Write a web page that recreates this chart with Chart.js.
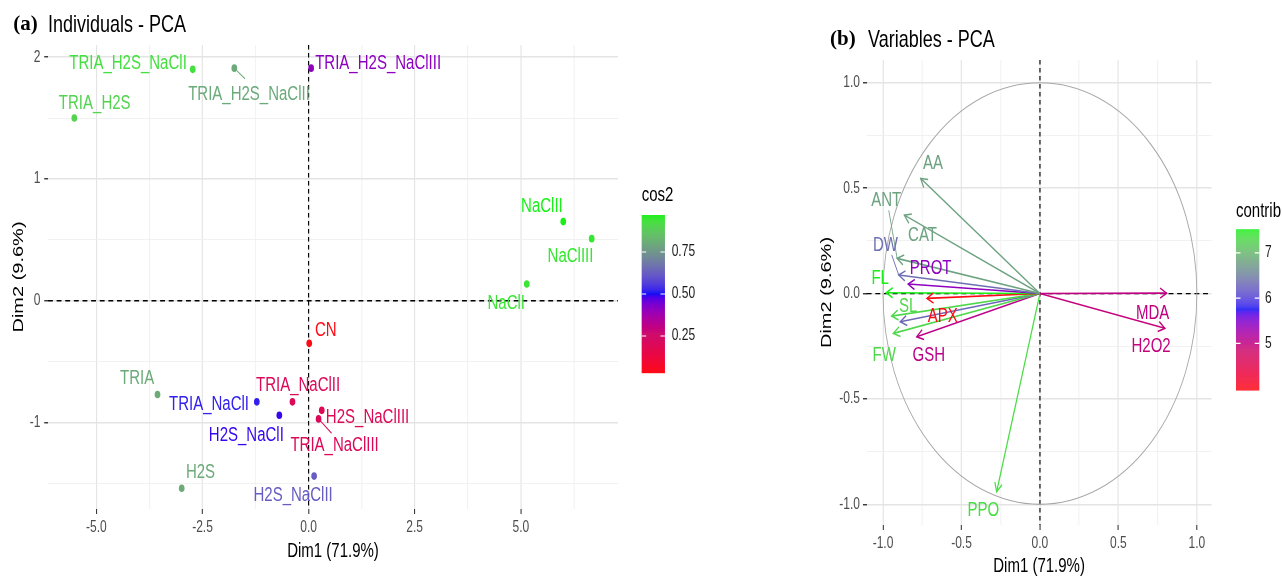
<!DOCTYPE html>
<html><head><meta charset="utf-8">
<script src="https://cdn.jsdelivr.net/npm/chart.js@4/dist/chart.umd.min.js"></script>
<style>
html,body{margin:0;padding:0;background:#fff;overflow:hidden;width:1282px;height:579px;}
#c1{position:absolute;left:0;top:0;}
#c2{position:absolute;left:780px;top:0;}
</style></head><body>
<canvas id="c1" width="1000" height="579"></canvas><canvas id="c2" width="669" height="579"></canvas>
<script>
// ---------- DATA ----------
const indNames = ["TRIA_H2S_NaClI","TRIA_H2S_NaClII","TRIA_H2S_NaClIII","TRIA_H2S","NaClII","NaClIII","NaClI","CN","TRIA","TRIA_NaClI","H2S_NaClI","TRIA_NaClII","H2S_NaClIII","TRIA_NaClIII","H2S","H2S_NaClII"];
const indDim1 = [-2.73,-1.75,0.06,-5.52,6.00,6.67,5.14,0.015,-3.56,-1.22,-0.69,-0.38,0.31,0.235,-2.99,0.13];
const indDim2 = [1.90,1.91,1.91,1.50,0.65,0.51,0.137,-0.35,-0.77,-0.83,-0.94,-0.83,-0.90,-0.97,-1.54,-1.44];
const indCos2 = [0.93,0.80,0.41,0.90,0.97,0.95,0.94,0.03,0.80,0.52,0.49,0.20,0.19,0.20,0.80,0.62];

const varNames = ["AA","ANT","CAT","DW","PROT","FL","APX","SL","","FW","GSH","MDA","H2O2","PPO"];
const varDim1 = [-0.76,-0.91,-0.864,-0.90,-0.84,-0.98,-0.72,-0.945,-0.89,-0.934,-0.785,0.807,0.796,-0.276];
const varDim2 = [0.546,0.167,0.372,0.088,0.045,0.004,-0.023,-0.107,-0.134,-0.189,-0.205,0.002,-0.165,-0.94];
const varContrib = [6.8,6.8,6.8,6.35,5.4,7.52,3.97,7.3,6.3,7.3,5.05,5.0,4.95,7.35];

const indXTicks = [-5,-3.75,-2.5,-1.25,0,1.25,2.5,3.75,5,6.25];
const indXMajor = [-5,-2.5,0,2.5,5];
const indYTicks = [-1.5,-1,-0.5,0,0.5,1,1.5,2];
const indYMajor = [-1,0,1,2];
const varTicks = [-1,-0.75,-0.5,-0.25,0,0.25,0.5,0.75,1];
const varMajor = [-1,-0.5,0,0.5,1];
const cos2LegendTicks = [0.25,0.5,0.75];
const contribLegendTicks = [5,6,7];

// ---------- LAYOUT / STYLE ----------
const SQ = 0.75; // horizontal compression of the reference figure
const FONT = "'Liberation Sans', Arial, sans-serif";
// label offsets in reference pixels relative to the mark
const indLabelPos = {
  "TRIA_H2S_NaClI":{dx:-64.7,dy:-6.3},
  "TRIA_H2S_NaClII":{dx:14.7,dy:26,seg:[10.7,10.7]},
  "TRIA_H2S_NaClIII":{dx:67,dy:-5},
  "TRIA_H2S":{dx:20.4,dy:-15},
  "NaClII":{dx:-21.3,dy:-15},
  "NaClIII":{dx:-21.2,dy:18},
  "NaClI":{dx:-20.5,dy:19.7},
  "CN":{dx:16.5,dy:-13.3},
  "TRIA":{dx:-20.4,dy:-15.7},
  "TRIA_NaClI":{dx:-47.8,dy:3},
  "H2S_NaClI":{dx:-33,dy:20.3},
  "TRIA_NaClII":{dx:5.6,dy:-16},
  "H2S_NaClIII":{dx:45.8,dy:6.7},
  "TRIA_NaClIII":{dx:16,dy:26.3,seg:[13,14.3]},
  "H2S":{dx:18.8,dy:-15.4},
  "H2S_NaClII":{dx:-21,dy:19}
};
const varLabelPos = [
  {dx:12.3,dy:-15},{dx:-10.9,dy:-58.3,seg:[-8.4,-48]},{dx:18.2,dy:20},{dx:-13.3,dy:-30,seg:[-7,-20]},
  {dx:22.5,dy:-15.7},{dx:-6,dy:-14.2},{dx:15.8,dy:18.4},{dx:16.6,dy:-9.3},{dx:0,dy:0},
  {dx:-9.1,dy:21.7},{dx:12.1,dy:18.3},{dx:-14,dy:20},{dx:-13.8,dy:17.7},{dx:-13.4,dy:18.3}
];

// ---------- COLOUR GRADIENT (Lab interpolation between stops) ----------
function hex2rgb(h){return [parseInt(h.slice(1,3),16),parseInt(h.slice(3,5),16),parseInt(h.slice(5,7),16)];}
function s2l(c){c/=255;return c<=0.04045?c/12.92:Math.pow((c+0.055)/1.055,2.4);}
function l2s(c){c=c<=0.0031308?12.92*c:1.055*Math.pow(Math.max(c,0),1/2.4)-0.055;return Math.round(Math.max(0,Math.min(1,c))*255);}
function rgb2lab(rgb){const R=s2l(rgb[0]),G=s2l(rgb[1]),B=s2l(rgb[2]);
  const X=(0.4124564*R+0.3575761*G+0.1804375*B)/0.95047,Y=0.2126729*R+0.7151522*G+0.0721750*B,Z=(0.0193339*R+0.1191920*G+0.9503041*B)/1.08883;
  const f=t=>t>0.008856?Math.cbrt(t):7.787*t+16/116;const fx=f(X),fy=f(Y),fz=f(Z);
  return [116*fy-16,500*(fx-fy),200*(fy-fz)];}
function lab2rgb(l){const fy=(l[0]+16)/116,fx=fy+l[1]/500,fz=fy-l[2]/200;
  const fi=t=>{const t3=t*t*t;return t3>0.008856?t3:(t-16/116)/7.787;};
  const X=fi(fx)*0.95047,Y=fi(fy),Z=fi(fz)*1.08883;
  return [l2s(3.2404542*X-1.5371385*Y-0.4985314*Z),l2s(-0.9692660*X+1.8760108*Y+0.0415560*Z),l2s(0.0556434*X-0.2040259*Y+1.0572252*Z)];}
const gradStops = [0,0.25,0.5,0.75,1];
const gradLab = ["#FF0a14","#CC0C6E","#0A0AF5","#6F9090","#18F018"].map(h=>rgb2lab(hex2rgb(h)));
function colorFor(v,lo,hi){let t=(v-lo)/(hi-lo);t=Math.max(0,Math.min(1,t));
  let k=0;while(k<gradStops.length-2&&t>gradStops[k+1])k++;
  const s=(t-gradStops[k])/(gradStops[k+1]-gradStops[k]);const a=gradLab[k],b=gradLab[k+1];
  const c=lab2rgb([a[0]+(b[0]-a[0])*s,a[1]+(b[1]-a[1])*s,a[2]+(b[2]-a[2])*s]);
  return 'rgb('+c.join(',')+')';}

const cosLo=Math.min(...indCos2), cosHi=Math.max(...indCos2);
const conLo=Math.min(...varContrib), conHi=Math.max(...varContrib);
const indColors=indCos2.map(v=>colorFor(v,cosLo,cosHi));
const varColors=varContrib.map(v=>colorFor(v,conLo,conHi));

// ---------- HELPERS ----------
function gridOpts(major){
  return {
    color:c=>major.includes(c.tick.value)?'#e4e4e4':'#efefef',
    lineWidth:c=>major.includes(c.tick.value)?1.5:1,
    tickColor:c=>major.includes(c.tick.value)?'#333333':'rgba(0,0,0,0)',
    tickLength:5,tickWidth:1.4,drawTicks:true
  };
}
function drawTitle(ctx,tagX,tag,textX,text,y){
  ctx.save();ctx.textBaseline='middle';ctx.textAlign='left';ctx.fillStyle='#000';
  ctx.translate(tagX,y);ctx.scale(1/SQ,1);ctx.font="bold 21px 'Liberation Serif','Times New Roman',serif";ctx.fillText(tag,0,0);ctx.restore();
  ctx.save();ctx.textBaseline='middle';ctx.textAlign='left';ctx.fillStyle='#000';ctx.font='24px '+FONT;ctx.fillText(text,textX,y);ctx.restore();
}
function drawColorbar(ctx,o){
  const h=o.bottom-o.top;ctx.save();
  for(let i=0;i<h;i++){const v=o.hi-(i+0.5)/h*(o.hi-o.lo);ctx.fillStyle=colorFor(v,o.lo,o.hi);ctx.fillRect(o.x,o.top+i,o.w,1.2);}
  ctx.strokeStyle='#fff';ctx.lineWidth=1.2;ctx.fillStyle='#1a1a1a';ctx.font='16px '+FONT;ctx.textAlign='left';ctx.textBaseline='middle';
  o.ticks.forEach(t=>{const y=o.bottom-(t-o.lo)/(o.hi-o.lo)*h;
    ctx.beginPath();ctx.moveTo(o.x,y);ctx.lineTo(o.x+6,y);ctx.moveTo(o.x+o.w-6,y);ctx.lineTo(o.x+o.w,y);ctx.stroke();
    ctx.fillText(o.fmt(t),o.labelX,y);});
  ctx.fillStyle='#000';ctx.font='20px '+FONT;ctx.fillText(o.title,o.x,o.titleY);
  ctx.restore();
}
function zeroLines(chart){
  const {ctx,chartArea:a,scales:{x,y}}=chart;const x0=x.getPixelForValue(0),y0=y.getPixelForValue(0);
  ctx.save();ctx.strokeStyle='#000';ctx.lineWidth=1.3;
  ctx.setLineDash([6.5,5]);ctx.beginPath();ctx.moveTo(a.left,y0);ctx.lineTo(a.right,y0);ctx.stroke();
  ctx.setLineDash([4.5,3.5]);ctx.lineWidth=1.5;ctx.beginPath();ctx.moveTo(x0,a.top);ctx.lineTo(x0,a.bottom);ctx.stroke();
  ctx.restore();
}
const squash={id:'squash',
  beforeDraw(chart){chart.ctx.save();chart.ctx.setTransform(SQ,0,0,1,0,0);}};
const common={responsive:false,animation:false,events:[],devicePixelRatio:1,
  plugins:{legend:{display:false},tooltip:{enabled:false}}};
function finish(chart,canvas,w){canvas.width=w;canvas.style.width=w+'px';canvas.style.height='579px';chart.draw();}

// ---------- CHART (a) ----------
const cv1=document.getElementById('c1');
const ch1=new Chart(cv1,{
  type:'scatter',
  data:{datasets:[{data:indDim1.map((v,i)=>({x:v,y:indDim2[i]})),pointRadius:3.8,pointBackgroundColor:indColors,pointBorderWidth:0}]},
  options:Object.assign({},common,{
    layout:{padding:{left:0,right:176,top:45,bottom:0}},
    scales:{
      x:{type:'linear',min:-6.14,max:7.29,
        afterBuildTicks:s=>{s.ticks=indXTicks.map(v=>({value:v}));},
        afterFit:s=>{s.height=70;},
        grid:gridOpts(indXMajor),border:{display:false},
        ticks:{callback:v=>indXMajor.includes(v)?v.toFixed(1):'',font:{family:FONT,size:16},color:'#4d4d4d',padding:4,maxRotation:0,autoSkip:false},
        title:{display:true,text:'Dim1 (71.9%)',font:{family:FONT,size:20},color:'#000',padding:{top:0,bottom:15.3}}},
      y:{type:'linear',min:-1.71,max:2.10,
        afterBuildTicks:s=>{s.ticks=indYTicks.map(v=>({value:v}));},
        afterFit:s=>{s.width=64;},
        grid:gridOpts(indYMajor),border:{display:false},
        ticks:{callback:v=>indYMajor.includes(v)?String(v):'',font:{family:FONT,size:16},color:'#4d4d4d',padding:5,autoSkip:false},
        title:{display:true,text:'Dim2 (9.6%)',font:{family:FONT,size:20},color:'#000',padding:{top:13.3,bottom:0}}}
    }
  }),
  plugins:[squash,{id:'indDeco',
    beforeDatasetsDraw(chart){zeroLines(chart);},
    afterDatasetsDraw(chart){
      const {ctx,scales:{x,y}}=chart;ctx.save();ctx.font='20px '+FONT;ctx.textAlign='center';ctx.textBaseline='middle';
      indNames.forEach((n,i)=>{const px=x.getPixelForValue(indDim1[i]),py=y.getPixelForValue(indDim2[i]);const o=indLabelPos[n];
        if(o.seg){ctx.strokeStyle=indColors[i];ctx.lineWidth=1.2;ctx.beginPath();ctx.moveTo(px,py);ctx.lineTo(px+o.seg[0]/SQ,py+o.seg[1]);ctx.stroke();}
        ctx.fillStyle=indColors[i];ctx.fillText(n,px+o.dx/SQ,py+o.dy);});
      ctx.restore();
    },
    afterDraw(chart){
      const ctx=chart.ctx;
      drawTitle(ctx,17.8,'(a)',64,'Individuals - PCA',25);
      drawColorbar(ctx,{x:855.6,w:31,top:215,bottom:373,lo:cosLo,hi:cosHi,ticks:cos2LegendTicks,fmt:t=>t.toFixed(2),title:'cos2',titleY:195,labelX:895.6});
      ctx.restore();
    }}]
});
finish(ch1,cv1,750);

// ---------- CHART (b) ----------
const cv2=document.getElementById('c2');
const ch2=new Chart(cv2,{
  type:'scatter',
  data:{datasets:varNames.map((n,i)=>({label:n,data:[{x:0,y:0},{x:varDim1[i],y:varDim2[i]}],showLine:true,borderColor:varColors[i],borderWidth:1.6,pointRadius:0,fill:false}))},
  options:Object.assign({},common,{
    layout:{padding:{left:0,right:93.7,top:60,bottom:0}},
    scales:{
      x:{type:'linear',min:-1.104,max:1.093,
        afterBuildTicks:s=>{s.ticks=varTicks.map(v=>({value:v}));},
        afterFit:s=>{s.height=54;},
        grid:gridOpts(varMajor),border:{display:false},
        ticks:{callback:v=>varMajor.includes(v)?v.toFixed(1):'',font:{family:FONT,size:16},color:'#4d4d4d',padding:4,maxRotation:0,autoSkip:false},
        title:{display:true,text:'Dim1 (71.9%)',font:{family:FONT,size:20},color:'#000',padding:{top:0,bottom:0.5}}},
      y:{type:'linear',min:-1.098,max:1.108,
        afterBuildTicks:s=>{s.ticks=varTicks.map(v=>({value:v}));},
        afterFit:s=>{s.width=115.6;},
        grid:gridOpts(varMajor),border:{display:false},
        ticks:{callback:v=>varMajor.includes(v)?v.toFixed(1):'',font:{family:FONT,size:16},color:'#4d4d4d',padding:4,autoSkip:false},
        title:{display:true,text:'Dim2 (9.6%)',font:{family:FONT,size:20},color:'#000',padding:{top:50.3,bottom:0}}}
    }
  }),
  plugins:[squash,{id:'varDeco',
    beforeDatasetsDraw(chart){
      zeroLines(chart);
      const {ctx,scales:{x,y}}=chart;const cx=x.getPixelForValue(0),cy=y.getPixelForValue(0);
      ctx.save();ctx.strokeStyle='#a8a8a8';ctx.lineWidth=1.2;ctx.beginPath();
      ctx.ellipse(cx,cy,Math.abs(x.getPixelForValue(1)-cx),Math.abs(y.getPixelForValue(1)-cy),0,0,Math.PI*2);ctx.stroke();ctx.restore();
    },
    afterDatasetsDraw(chart){
      const {ctx,scales:{x,y}}=chart;const ox=x.getPixelForValue(0),oy=y.getPixelForValue(0);
      ctx.save();ctx.lineWidth=1.6;ctx.font='20px '+FONT;ctx.textAlign='center';ctx.textBaseline='middle';
      varNames.forEach((n,i)=>{const px=x.getPixelForValue(varDim1[i]),py=y.getPixelForValue(varDim2[i]);
        const ang=Math.atan2(py-oy,px-ox),L=10,A=Math.PI/6;ctx.strokeStyle=varColors[i];
        ctx.beginPath();ctx.moveTo(px-L*Math.cos(ang-A),py-L*Math.sin(ang-A));ctx.lineTo(px,py);ctx.lineTo(px-L*Math.cos(ang+A),py-L*Math.sin(ang+A));ctx.stroke();
        const o=varLabelPos[i];
        if(o.seg){ctx.lineWidth=1.1;ctx.beginPath();ctx.moveTo(px,py);ctx.lineTo(px+o.seg[0]/SQ,py+o.seg[1]);ctx.stroke();ctx.lineWidth=1.6;}
        if(n){ctx.fillStyle=varColors[i];ctx.fillText(n,px+o.dx/SQ,py+o.dy);}
      });
      ctx.restore();
    },
    afterDraw(chart){
      const ctx=chart.ctx;
      drawTitle(ctx,66.7,'(b)',117.3,'Variables - PCA',40);
      drawColorbar(ctx,{x:608,w:31,top:229.3,bottom:390,lo:conLo,hi:conHi,ticks:contribLegendTicks,fmt:t=>String(t),title:'contrib',titleY:211.7,labelX:646.7});
      ctx.restore();
    }}]
});
finish(ch2,cv2,502);
</script>
</body></html>
